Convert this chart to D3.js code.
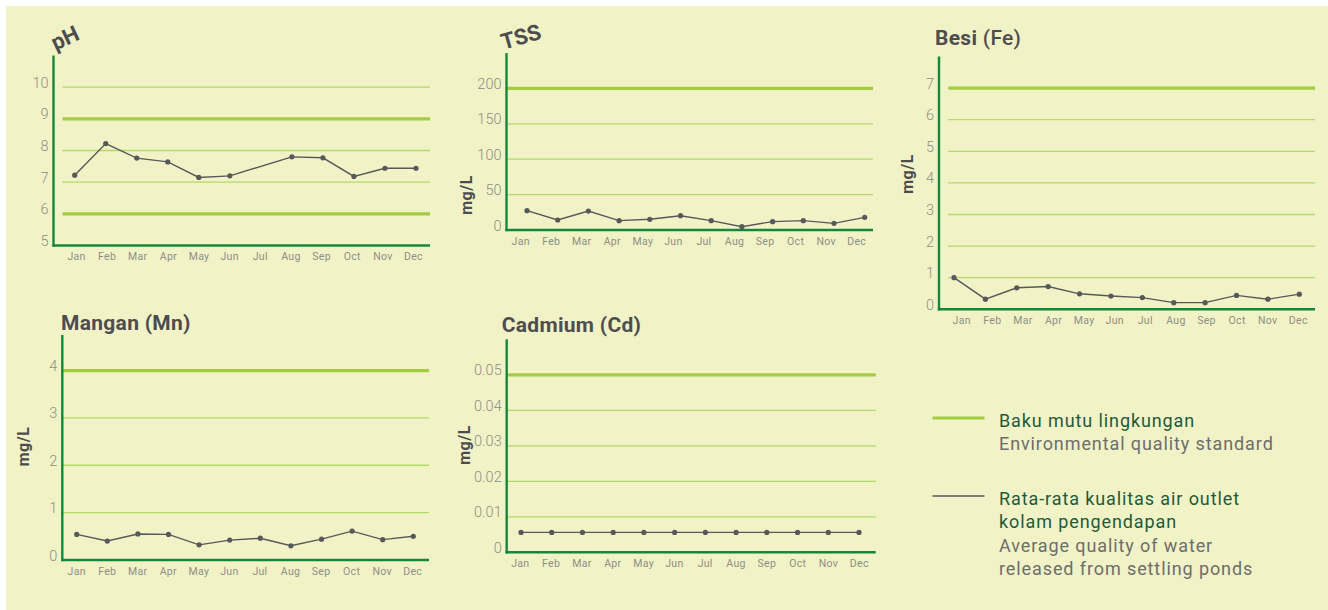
<!DOCTYPE html>
<html><head><meta charset="utf-8">
<script src="https://cdn.jsdelivr.net/npm/d3@7/dist/d3.min.js"></script>
<style>
html,body{margin:0;padding:0;background:#fff;}
svg{display:block;font-family:Roboto,"Noto Sans",sans-serif;}
</style></head>
<body>
<svg id="chart" width="1328" height="610"></svg>
<script>
// ---------- DATA ----------
const months = ["Jan","Feb","Mar","Apr","May","Jun","Jul","Aug","Sep","Oct","Nov","Dec"];

const phValues  = [7.22, 8.22, 7.76, 7.64, 7.15, 7.20, null, 7.80, 7.77, 7.18, 7.44, 7.44];
const phTicks   = [5, 6, 7, 8, 9, 10];
const phStandard = [6, 9];

const tssValues = [27.3, 14.1, 26.8, 13.2, 15.1, 20.2, 13.2, 4.7, 11.8, 13.2, 9.4, 17.9];
const tssTicks  = [0, 50, 100, 150, 200];
const tssStandard = [200];

const feValues  = [1.00, 0.32, 0.68, 0.72, 0.49, 0.42, 0.37, 0.21, 0.21, 0.44, 0.32, 0.48];
const feTicks   = [0, 1, 2, 3, 4, 5, 6, 7];
const feStandard = [7];

const mnValues  = [0.54, 0.40, 0.55, 0.54, 0.32, 0.42, 0.46, 0.30, 0.44, 0.61, 0.43, 0.50];
const mnTicks   = [0, 1, 2, 3, 4];
const mnStandard = [4];

const cdValues  = [0.0056, 0.0056, 0.0056, 0.0056, 0.0056, 0.0056, 0.0056, 0.0056, 0.0056, 0.0056, 0.0056, 0.0056];
const cdTicks   = [0, 0.01, 0.02, 0.03, 0.04, 0.05];
const cdStandard = [0.05];

const legendItems = [
  {id: ["Baku mutu lingkungan"], en: ["Environmental quality standard"], kind: "standard"},
  {id: ["Rata-rata kualitas air outlet", "kolam pengendapan"], en: ["Average quality of water", "released from settling ponds"], kind: "data"}
];

// ---------- STYLE ----------
const C = {
  bg: "#f1f3c7",
  axis: "#15873d",
  grid: "#b4d868",
  std: "#a2cd42",
  line: "#58585a",
  tick: "#8e8e86",
  title: "#4d4d4f",
  legendId: "#1f5a3a",
  legendEn: "#6d6d6b"
};

const svg = d3.select("#chart");
svg.append("rect").attr("x", 6).attr("y", 6).attr("width", 1322).attr("height", 604).attr("fill", C.bg);

// ---------- CHART LAYOUTS ----------
const charts = [
  {values: phValues, ticks: phTicks, std: phStandard, domain: [5, 11],
   ax: 53.5, gx: 62.5, x1: 430, yTop: 55.5, yBot: 245.5,
   p0: 74.7, p1: 416, l0: 76.5, l1: 413.5,
   fmt: d => d, title: {text: "pH", x: 65, y: 38, rot: -25},
   unit: null},
  {values: tssValues, ticks: tssTicks, std: tssStandard, domain: [0, 250],
   ax: 506.5, gx: 506.5, x1: 873, yTop: 53, yBot: 230,
   p0: 527, p1: 864.7, l0: 520.7, l1: 856.7,
   fmt: d => d, title: {text: "TSS", x: 521, y: 37, rot: -16},
   unit: {x: 466, y: 195}},
  {values: feValues, ticks: feTicks, std: feStandard, domain: [0, 8],
   ax: 939, gx: 948.3, x1: 1315, yTop: 56.5, yBot: 309.3,
   p0: 954, p1: 1299.3, l0: 961.7, l1: 1298.3,
   fmt: d => d, title: {text: "Besi", sub: " (Fe)", x: 935, y: 45},
   unit: {x: 907, y: 174}},
  {values: mnValues, ticks: mnTicks, std: mnStandard, domain: [0, 4.75],
   ax: 62.3, gx: 62.3, x1: 429, yTop: 335, yBot: 560,
   p0: 76.7, p1: 413.3, l0: 76.7, l1: 412.7,
   fmt: d => d, title: {text: "Mangan (Mn)", x: 61, y: 329.5},
   unit: {x: 23, y: 446.5}},
  {values: cdValues, ticks: cdTicks, std: cdStandard, domain: [0, 0.06],
   ax: 506.7, gx: 506.7, x1: 875.7, yTop: 339.3, yBot: 552.3,
   p0: 521, p1: 859, l0: 520.3, l1: 859.3,
   fmt: d => d === 0 ? "0" : d3.format(".2f")(d), title: {text: "Cadmium (Cd)", x: 501.7, y: 331.7},
   unit: {x: 464, y: 445}}
];

charts.forEach(cfg => {
  const g = svg.append("g");
  const y = d3.scaleLinear().domain(cfg.domain).range([cfg.yBot, cfg.yTop]);
  const x = d3.scalePoint().domain(months).range([cfg.p0, cfg.p1]);
  const xl = d3.scalePoint().domain(months).range([cfg.l0, cfg.l1]);

  // gridlines (skip baseline)
  const gridTicks = cfg.ticks.filter(t => t !== cfg.domain[0]);
  g.selectAll("line.grid").data(gridTicks).join("line")
    .attr("x1", cfg.gx).attr("x2", cfg.x1)
    .attr("y1", d => y(d)).attr("y2", d => y(d))
    .attr("stroke", d => cfg.std.includes(d) ? C.std : C.grid)
    .attr("stroke-width", d => cfg.std.includes(d) ? 3.2 : 1.3);

  // y tick labels
  g.selectAll("text.ytick").data(cfg.ticks).join("text")
    .attr("x", cfg.ax - 5).attr("y", d => y(d) + 0.5)
    .attr("text-anchor", "end")
    .attr("font-size", 14.5).attr("font-weight", 300)
    .attr("fill", C.tick)
    .text(cfg.fmt);

  // month labels
  g.selectAll("text.xtick").data(months).join("text")
    .attr("x", d => xl(d)).attr("y", cfg.yBot + 14.5)
    .attr("text-anchor", "middle")
    .attr("font-size", 10.5).attr("font-weight", 400).attr("letter-spacing", 0.3)
    .attr("fill", C.tick)
    .text(d => d);

  // axes
  g.append("line").attr("x1", cfg.ax).attr("x2", cfg.ax).attr("y1", cfg.yTop).attr("y2", cfg.yBot + 1.2)
    .attr("stroke", C.axis).attr("stroke-width", 2.4);
  g.append("line").attr("x1", cfg.ax - 1.2).attr("x2", cfg.x1).attr("y1", cfg.yBot).attr("y2", cfg.yBot)
    .attr("stroke", C.axis).attr("stroke-width", 2.4);

  // data line
  const pts = months.map((m, i) => ({m, v: cfg.values[i]})).filter(d => d.v !== null);
  const line = d3.line().x(d => x(d.m)).y(d => y(d.v));
  g.append("path").datum(pts).attr("d", line)
    .attr("fill", "none").attr("stroke", C.line).attr("stroke-width", 1.4);
  g.selectAll("circle").data(pts).join("circle")
    .attr("cx", d => x(d.m)).attr("cy", d => y(d.v)).attr("r", 2.6)
    .attr("fill", C.line);

  // title
  const t = cfg.title;
  if (t.rot !== undefined) {
    g.append("text")
      .attr("transform", `translate(${t.x},${t.y}) rotate(${t.rot})`)
      .attr("text-anchor", "middle").attr("dominant-baseline", "central")
      .attr("font-size", 22).attr("font-weight", 700).attr("fill", C.title)
      .text(t.text);
  } else {
    const tt = g.append("text").attr("x", t.x).attr("y", t.y)
      .attr("font-size", 21).attr("font-weight", 700).attr("letter-spacing", 0.3).attr("fill", C.title);
    tt.append("tspan").text(t.text);
    if (t.sub) tt.append("tspan").attr("font-weight", 500).text(t.sub);
  }

  // unit
  if (cfg.unit) {
    g.append("text")
      .attr("transform", `translate(${cfg.unit.x},${cfg.unit.y}) rotate(-90)`)
      .attr("text-anchor", "middle").attr("dominant-baseline", "central")
      .attr("font-size", 16).attr("font-weight", 700).attr("letter-spacing", 0.5).attr("fill", C.title)
      .text("mg/L");
  }
});

// ---------- LEGEND ----------
const lg = svg.append("g");
const legendY = [418, 496];
legendItems.forEach((item, i) => {
  const y0 = legendY[i];
  lg.append("line").attr("x1", 932.5).attr("x2", 984.5).attr("y1", y0).attr("y2", y0)
    .attr("stroke", item.kind === "standard" ? C.std : C.line)
    .attr("stroke-width", item.kind === "standard" ? 3 : 1.4);
  const lines = item.id.map(s => ({s, c: C.legendId})).concat(item.en.map(s => ({s, c: C.legendEn})));
  lines.forEach((ln, j) => {
    lg.append("text").attr("x", 999).attr("y", y0 + 8.7 + j * 23.5)
      .attr("font-size", 18).attr("letter-spacing", 0.9).attr("fill", ln.c).text(ln.s);
  });
});
</script>
</body></html>
